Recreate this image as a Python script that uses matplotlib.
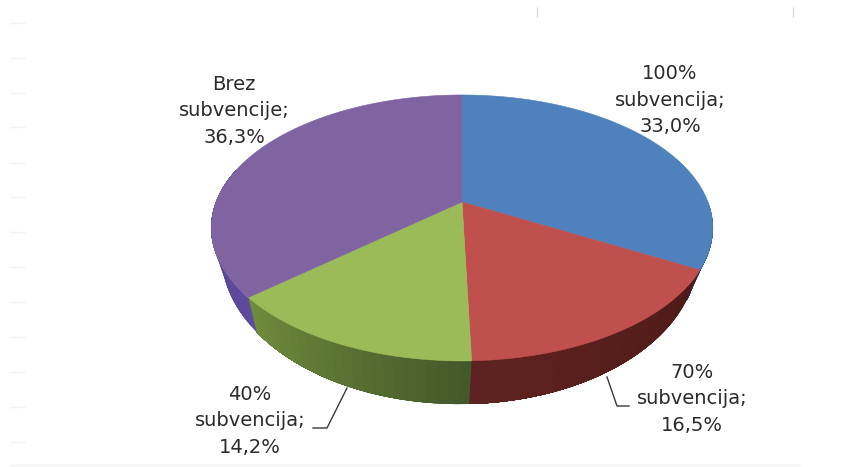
import numpy as np
import matplotlib
matplotlib.use("Agg")
import matplotlib.pyplot as plt

labels = ["100%\nsubvencija;\n33,0%", "70%\nsubvencija;\n16,5%",
          "40%\nsubvencija;\n14,2%", "Brez\nsubvencije;\n36,3%"]
values = [33.0, 16.5, 14.2, 36.3]
top_colors = ["#4f81bd", "#c0504d", "#9bbb59", "#8064a2"]
side_start = ["#2b4f80", "#4e1a18", "#44592a", "#5f4b9c"]
side_end = ["#1d3560", "#5e2320", "#6f8c3c", "#4f3f86"]
label_xy = [(670, 100), (692, 399), (250, 421), (234, 111)]


def rim(theta, x0, y0, a, b, k=-0.195):
    # circle seen in perspective, theta clockwise from the top
    u = np.sin(theta)
    v = -np.cos(theta)
    d = 1 + k * v
    return x0 + a * u / d, y0 + b * v / d


fig = plt.figure(figsize=(8.41, 4.67), dpi=100)
ax = fig.add_axes([0, 0, 1, 1])
ax.set_xlim(0, 841)
ax.set_ylim(467, 0)
ax.axis("off")

# faint remains of the gridlines
ax.hlines([23, 58, 93, 127, 163, 197, 232, 267, 302, 337, 372, 407, 442], 10, 25,
          color="#f3f3f3", lw=1)
ax.hlines(465, 10, 800, color="#f2f2f2", lw=1)
ax.vlines([537, 793], 7, 17, color="#d9d9d9", lw=1)

edges = np.radians(np.concatenate([[0], np.cumsum(values)]) * 3.6)

# side wall first, made of thin strips for the shading
for i in range(4):
    lo = max(edges[i], np.pi / 2)
    hi = min(edges[i + 1], np.radians(285))
    if hi <= lo:
        continue
    steps = np.linspace(lo, hi, 25)
    c0 = np.array(matplotlib.colors.to_rgb(side_start[i]))
    c1 = np.array(matplotlib.colors.to_rgb(side_end[i]))
    for j in range(len(steps) - 1):
        # each strip runs on to the end of the slice, so no seams show
        t = np.linspace(steps[j], hi, 60)
        xa, ya = rim(t, 462, 202, 246, 127.9)
        xb, yb = rim(t, 460, 224, 234, 145)
        col = c0 + (c1 - c0) * j / (len(steps) - 2)
        ax.fill(np.r_[xa, xb[::-1]], np.r_[ya, yb[::-1]], color=col, lw=0)

# top face
for i in range(4):
    t = np.linspace(edges[i], edges[i + 1], 150)
    x, y = rim(t, 462, 202, 246, 127.9)
    ax.fill(np.r_[462, x], np.r_[202, y], color=top_colors[i], lw=0.4)

# leader lines
ax.plot([347, 327, 313], [388, 428, 428], color="#3a3a3a", lw=1)
ax.plot([607, 617, 629], [377, 406, 406], color="#3a3a3a", lw=1)

for lab, (x, y) in zip(labels, label_xy):
    ax.text(x, y, lab, ha="center", va="center", fontsize=14,
            color="#2b2b2b", linespacing=1.48, family="DejaVu Sans")

fig.savefig("out.png", dpi=100)
